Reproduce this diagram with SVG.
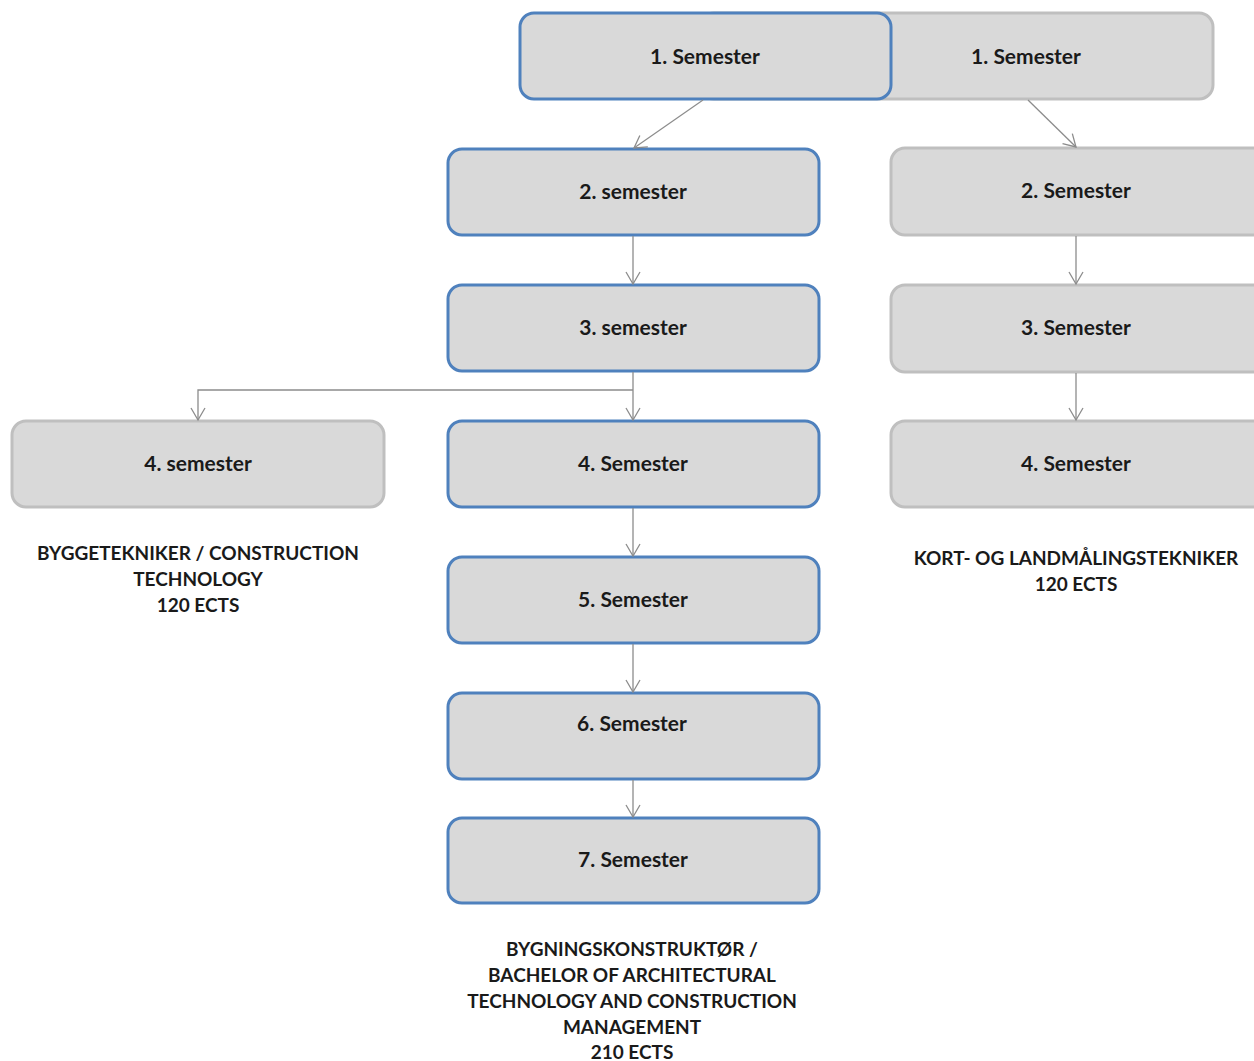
<svg xmlns="http://www.w3.org/2000/svg" width="1254" height="1061" viewBox="0 0 1254 1061">
<defs>
<style>
.b{fill:#d9d9d9;stroke:#4f81bd;stroke-width:3}
.g{fill:#d9d9d9;stroke:#bfbfbf;stroke-width:3}
.t{font-family:Lato,"Open Sans",sans-serif;font-weight:bold;font-size:19px;fill:#1a1a1a;text-anchor:middle}
.n{font-size:21px}
.c{fill:none;stroke:#8c8c8c;stroke-width:1.3}
</style>
<marker id="a" markerWidth="16" markerHeight="16" refX="14" refY="8" orient="auto" markerUnits="userSpaceOnUse">
<path d="M2,1 L14,8 L2,15" fill="none" stroke="#8c8c8c" stroke-width="1.3"/>
</marker>
</defs>
<rect width="1254" height="1061" fill="#ffffff"/>
<g id="n1r"><rect class="g" x="700" y="13" width="513" height="86" rx="14"/><text class="t n" x="1026" y="64">1. Semester</text></g>
<g id="n1b"><rect class="b" x="520" y="13" width="371" height="86" rx="14"/><text class="t n" x="705" y="64">1. Semester</text></g>
<g id="n2b"><rect class="b" x="448" y="149" width="371" height="86" rx="14"/><text class="t n" x="633" y="199">2. semester</text></g>
<g id="n3b"><rect class="b" x="448" y="285" width="371" height="86" rx="14"/><text class="t n" x="633" y="335">3. semester</text></g>
<g id="n4b"><rect class="b" x="448" y="421" width="371" height="86" rx="14"/><text class="t n" x="633" y="471">4. Semester</text></g>
<g id="n5b"><rect class="b" x="448" y="557" width="371" height="86" rx="14"/><text class="t n" x="633" y="607">5. Semester</text></g>
<g id="n6b"><rect class="b" x="448" y="693" width="371" height="86" rx="14"/><text class="t n" x="632" y="731">6. Semester</text></g>
<g id="n7b"><rect class="b" x="448" y="818" width="371" height="85" rx="14"/><text class="t n" x="633" y="867">7. Semester</text></g>
<g id="n4l"><rect class="g" x="12" y="421" width="372" height="86" rx="14"/><text class="t n" x="198" y="471">4. semester</text></g>
<g id="n2r"><rect class="g" x="891" y="148" width="380" height="87" rx="14"/><text class="t n" x="1076" y="198">2. Semester</text></g>
<g id="n3r"><rect class="g" x="891" y="285" width="380" height="87" rx="14"/><text class="t n" x="1076" y="335">3. Semester</text></g>
<g id="n4r"><rect class="g" x="891" y="421" width="380" height="86" rx="14"/><text class="t n" x="1076" y="471">4. Semester</text></g>
<g id="lab-left"><text class="t" x="198" y="560">BYGGETEKNIKER / CONSTRUCTION</text><text class="t" x="198" y="586">TECHNOLOGY</text><text class="t" x="198" y="612">120 ECTS</text></g>
<g id="lab-right"><text class="t" x="1076" y="565">KORT- OG LANDMÅLINGSTEKNIKER</text><text class="t" x="1076" y="591">120 ECTS</text></g>
<g id="lab-mid"><text class="t" x="632" y="956">BYGNINGSKONSTRUKTØR /</text><text class="t" x="632" y="982">BACHELOR OF ARCHITECTURAL</text><text class="t" x="632" y="1008">TECHNOLOGY AND CONSTRUCTION</text><text class="t" x="632" y="1034">MANAGEMENT</text><text class="t" x="632" y="1059">210 ECTS</text></g>
<g id="connectors">
<line class="c" x1="703" y1="100" x2="634" y2="148" marker-end="url(#a)"/>
<line class="c" x1="1028" y1="100" x2="1076" y2="147" marker-end="url(#a)"/>
<line class="c" x1="633" y1="236" x2="633" y2="284" marker-end="url(#a)"/>
<line class="c" x1="633" y1="372" x2="633" y2="420" marker-end="url(#a)"/>
<polyline class="c" points="633,390 198,390 198,420" marker-end="url(#a)"/>
<line class="c" x1="633" y1="508" x2="633" y2="556" marker-end="url(#a)"/>
<line class="c" x1="633" y1="644" x2="633" y2="692" marker-end="url(#a)"/>
<line class="c" x1="633" y1="780" x2="633" y2="817" marker-end="url(#a)"/>
<line class="c" x1="1076" y1="236" x2="1076" y2="284" marker-end="url(#a)"/>
<line class="c" x1="1076" y1="373" x2="1076" y2="420" marker-end="url(#a)"/>
</g>
</svg>
